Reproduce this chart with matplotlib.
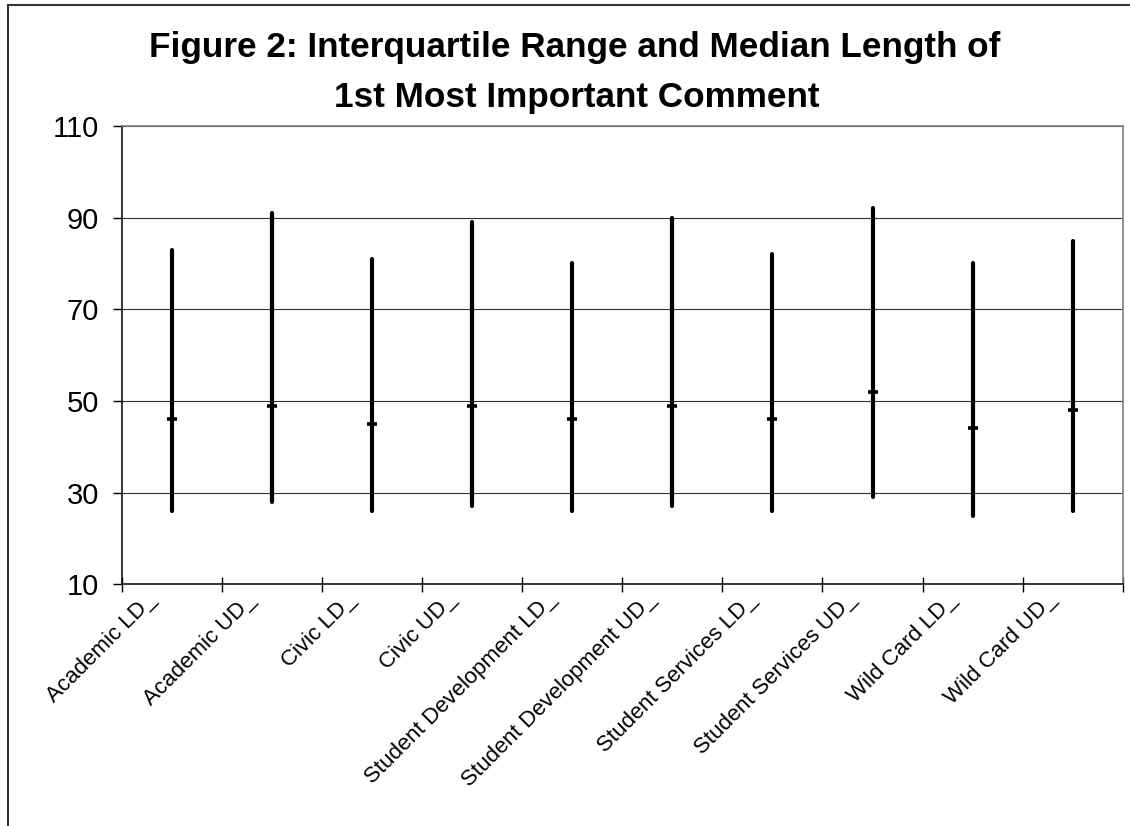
import matplotlib
matplotlib.use('Agg')
import matplotlib.pyplot as plt
from matplotlib.lines import Line2D
from matplotlib.transforms import ScaledTranslation

plt.rcParams['font.family'] = ['Liberation Sans', 'DejaVu Sans']

# data
categories = ['Academic LD_', 'Academic UD_', 'Civic LD_', 'Civic UD_',
              'Student Development LD_', 'Student Development UD_',
              'Student Services LD_', 'Student Services UD_',
              'Wild Card LD_', 'Wild Card UD_']
q1 = [26, 28, 26, 27, 26, 27, 26, 29, 25, 26]
q3 = [83, 91, 81, 89, 80, 90, 82, 92, 80, 85]
median = [46, 49, 45, 49, 46, 49, 46, 52, 44, 48]
y_ticks = [10, 30, 50, 70, 90, 110]

W, H = 1130, 826
fig = plt.figure(figsize=(W / 100, H / 100), dpi=100)
ax = fig.add_axes([122 / W, 1 - 584.3 / H, 1000.7 / W, 458.3 / H])

x = list(range(len(categories)))
bars = ax.vlines(x, q1, q3, colors='black', linewidth=3.0)
bars.set_capstyle('round')
ax.plot(x, median, linestyle='none', marker='_', markersize=7,
        markeredgewidth=2.6, color='black')

ax.set_xlim(-0.5, len(categories) - 0.5)
ax.set_ylim(10, 110)
ax.set_yticks(y_ticks)
ax.tick_params(axis='y', labelsize=21, length=6.5, width=1, pad=10, direction='out')
ax.yaxis.grid(True, color='#333333', linewidth=0.8)
ax.set_axisbelow(True)

# ticks between categories, labels at category centres
ax.set_xticks([i - 0.5 for i in range(len(categories) + 1)])
ax.set_xticklabels([])
ax.tick_params(axis='x', which='major', direction='inout', length=10.8, width=1)
ax.set_xticks(x, categories, minor=True)
ax.tick_params(axis='x', which='minor', length=0, pad=14, labelsize=16)
shift = ScaledTranslation(-12 / 100, 0, fig.dpi_scale_trans)
for lab in ax.get_xticklabels(minor=True):
    lab.set_rotation(45)
    lab.set_ha('right')
    lab.set_va('bottom')
    lab.set_rotation_mode('anchor')
    lab.set_transform(lab.get_transform() + shift)

for s in ['left', 'bottom']:
    ax.spines[s].set_color('black')
    ax.spines[s].set_linewidth(1.1)
for s in ['top', 'right']:
    ax.spines[s].set_color('#808080')
    ax.spines[s].set_linewidth(1.2)

fig.text(575 / W, 1 - 57 / H, 'Figure 2: Interquartile Range and Median Length of',
         ha='center', va='baseline', fontsize=25.3, fontweight='bold')
fig.text(577 / W, 1 - 107 / H, '1st Most Important Comment',
         ha='center', va='baseline', fontsize=25.3, fontweight='bold')

# chart area border (left and top edges visible)
fig.add_artist(Line2D([8 / W, 8 / W], [0, 1 - 5 / H], transform=fig.transFigure,
                      color='#333333', linewidth=1.5))
fig.add_artist(Line2D([8 / W, 1129 / W], [1 - 5 / H, 1 - 5 / H], transform=fig.transFigure,
                      color='#333333', linewidth=1.5))

fig.savefig('out.png', dpi=100)
